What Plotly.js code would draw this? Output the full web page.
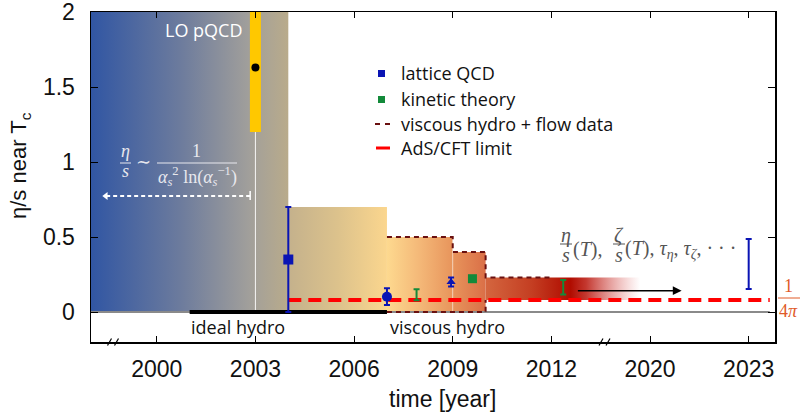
<!DOCTYPE html>
<html><head><meta charset="utf-8">
<script src="https://cdn.plot.ly/plotly-3.0.1.min.js"></script>
<style>html,body{margin:0;padding:0;background:#fff}#plot{width:801px;height:416px}</style>
</head><body><div id="plot"></div>
<script>
// ---------- data ----------
const tickPos = [2000, 2003, 2006, 2009, 2012, 2015, 2018];          // positions on the broken axis
const tickYears = ['2000', '2003', '2006', '2009', '2012', '2020', '2023'];
const yTicks = [0, 0.5, 1, 1.5, 2];
const yTickText = ['0', '0.5', '1', '1.5', '2'];

// shaded eras (on broken-axis positions)
const regionStart = [1998, 2004, 2007, 2009, 2010];
const regionEnd   = [2004, 2007, 2009, 2010, 2014.7];
const regionLow   = [0, 0, 0, 0, 0.08];
const regionHigh  = [2.0, 0.7, 0.5, 0.4, 0.23];

// viscous hydro + flow data outline
const vhX = [2007, 2009, 2009, 2010, 2010, 2012];
const vhY = [0.5, 0.5, 0.4, 0.4, 0.23, 0.23];
const vhBotX = [2007, 2010, 2010];
const vhBotY = [0, 0, 0.08];

// lattice QCD
const latX = [2004, 2007, 2008.95, 2018];
const latY = [0.35, 0.102, 0.20, 0.32];
const latErrPlus = [0.35, 0.056, 0.03, 0.167];
const latErrMinus = [0.35, 0.055, 0.03, 0.167];
const latSymbol = ['square', 'circle', 'triangle-up', 'circle'];
const latSize = [10, 10, 8, 0];

// kinetic theory
const kinX = [2007.9, 2009.6, 2012.36];
const kinY = [0.115, 0.222, 0.165];
const kinErr = [0.036, 0, 0.048];
const kinSize = [0, 9, 0];

// LO pQCD
const pqcdX = [2003, 2003];
const pqcdRange = [1.2, 2.0];
const pqcdValue = [1.63];
const pqcdArrowX = [2002.84, 1998.45];
const pqcdArrowY = [0.773, 0.773];
const pqcdCapY = [0.747, 0.807];
const pqcdStemY = [0, 1.2];

// ideal hydro, AdS/CFT, zero line, faint year line
const idealX = [2001, 2007];
const idealY = [0, 0];
const adsX = [2004, 2018.64];
const adsValue = 0.0796;   // 1/(4 pi)
const zeroX = [1998, 2018.64];
const faintX = [2009, 2009];
const faintY = [0, 0.5];

// future arrow
const futureX = [2012.76, 2015.96];
const futureY = 0.142;

// ---------- helpers ----------
const L = 91, R = 775, T = 12, B = 342;
const px = x => (x - L) / (R - L);
const py = y => (B - y) / (B - T);

const traces = [];
const gradients = [
  {cs: [[0, '#3156a3'], [0.45, '#6c7b9d'], [0.8, '#a19f9b'], [1, '#b9ab8b']], start: 1998, stop: 2004},
  {cs: [[0, '#c4b18c'], [0.5, '#dcc28c'], [1, '#fbd68e']], start: 2004, stop: 2007},
  {cs: [[0, '#fdd98f'], [0.33, '#f4b878'], [0.66, '#e8955c'], [1, '#da6f47']], start: 2007, stop: 2010},
  {cs: [[0, '#fdd98f'], [0.33, '#f4b878'], [0.66, '#e8955c'], [1, '#da6f47']], start: 2007, stop: 2010},
  {cs: [[0, '#d4663f'], [0.3, '#c43e22'], [0.55, '#b00c00'], [0.65, 'rgba(185,20,10,0.85)'], [1, 'rgba(220,90,90,0)']], start: 2010, stop: 2014.7}
];
regionStart.forEach((x0, i) => {
  const x1 = regionEnd[i], y0 = regionLow[i], y1 = regionHigh[i];
  traces.push({
    x: [x0, x1, x1, x0, x0], y: [y0, y0, y1, y1, y0],
    mode: 'lines', line: {width: 0}, fill: 'toself',
    fillgradient: {type: 'horizontal', colorscale: gradients[i].cs, start: gradients[i].start, stop: gradients[i].stop},
    hoverinfo: 'skip', showlegend: false
  });
});

// zero line
traces.push({x: zeroX, y: [0, 0], mode: 'lines', line: {color: '#8a8a8a', width: 2}, showlegend: false});
// white stem at 2003 and faint line at 2009
traces.push({x: pqcdX, y: pqcdStemY, mode: 'lines', line: {color: 'rgba(255,255,255,0.9)', width: 1}, showlegend: false});
traces.push({x: faintX, y: faintY, mode: 'lines', line: {color: 'rgba(255,255,255,0.45)', width: 1}, showlegend: false});
// viscous hydro outline
traces.push({x: vhX, y: vhY, mode: 'lines', line: {color: '#6a1010', width: 2, dash: '5px,4px'}, showlegend: false});
traces.push({x: vhBotX, y: vhBotY, mode: 'lines', line: {color: '#6a1010', width: 2, dash: '5px,4px'}, showlegend: false});
// ideal hydro
traces.push({x: idealX, y: idealY, mode: 'lines', line: {color: '#000', width: 4}, showlegend: false});
// AdS/CFT
traces.push({x: adsX, y: [adsValue, adsValue], mode: 'lines', line: {color: '#ff0000', width: 4, dash: '13px,7px'}, showlegend: false});
// LO pQCD band and point
traces.push({x: pqcdX, y: pqcdRange, mode: 'lines', line: {color: '#ffc800', width: 11}, showlegend: false});
traces.push({x: [pqcdX[0]], y: pqcdValue, mode: 'markers', marker: {color: '#000', size: 8}, showlegend: false});
// pQCD dashed arrow
traces.push({x: pqcdArrowX, y: pqcdArrowY, mode: 'lines', line: {color: '#ffffff', width: 2, dash: '4px,3px'}, showlegend: false});
traces.push({x: [pqcdArrowX[1]], y: [pqcdArrowY[1]], mode: 'markers', marker: {symbol: 'triangle-left', color: '#ffffff', size: 7}, showlegend: false});
traces.push({x: [pqcdArrowX[0], pqcdArrowX[0]], y: pqcdCapY, mode: 'lines', line: {color: '#ffffff', width: 1.5}, showlegend: false});
// lattice QCD
traces.push({
  x: latX, y: latY, mode: 'markers',
  marker: {symbol: latSymbol, size: latSize, color: '#0a14b4', opacity: 1, line: {width: 0}},
  error_y: {type: 'data', symmetric: false, array: latErrPlus, arrayminus: latErrMinus, color: '#0a14b4', thickness: 2, width: 3},
  showlegend: false
});
// kinetic theory
traces.push({
  x: kinX, y: kinY, mode: 'markers',
  marker: {symbol: 'square', size: kinSize, color: '#138a3a', opacity: 1, line: {width: 0}},
  error_y: {type: 'data', array: kinErr, color: '#138a3a', thickness: 2, width: 3},
  showlegend: false
});

// ---------- annotations ----------
const sans = 'Open Sans, Noto Sans, sans-serif';
const serif = 'Liberation Serif, DejaVu Serif, serif';
const ann = [];
const A = (text, x, y, o = {}) => ann.push(Object.assign({
  text, xref: 'paper', yref: 'paper', x: px(x), y: py(y), showarrow: false,
  xanchor: 'center', yanchor: 'middle', font: {family: sans, size: 18, color: '#111'}
}, o));

A('LO pQCD', 203, 30, {font: {family: sans, size: 18, color: '#ffffff'}});
A('ideal hydro', 238, 327);
A('viscous hydro', 447, 327);
// legend texts
A('lattice QCD', 399, 73, {xanchor: 'left'});
A('kinetic theory', 399, 99, {xanchor: 'left'});
A('viscous hydro + flow data', 399, 124, {xanchor: 'left'});
A('AdS/CFT limit', 399, 148, {xanchor: 'left'});
// axis titles
A('time [year]', 442, 399, {font: {family: 'Liberation Sans, Arial, sans-serif', size: 23, color: '#111'}});
A('η/s near T<sub>c</sub>', 20, 166, {textangle: -90, font: {family: 'Liberation Sans, Arial, sans-serif', size: 22, color: '#111'}});

// left formula
const wf = {family: serif, size: 18, color: '#e8e8ee'};
A('<i>η</i>', 125.5, 151, {font: wf});
A('<i>s</i>', 125.5, 171, {font: wf});
A('∼', 143, 162, {font: wf});
A('1', 196.5, 151, {font: wf});
A('<i>α</i><sub><i>s</i></sub><sup>2</sup> ln(<i>α</i><sub><i>s</i></sub><sup>−1</sup>)', 197, 176, {font: wf});

// right formula
const gf = {family: serif, size: 20, color: '#555555'};
A('<i>η</i>', 566, 235, {font: gf});
A('<i>s</i>', 566, 255, {font: gf});
A('(<i>T</i>),', 571, 249, {font: gf, xanchor: 'left'});
A('<i>ζ</i>', 619, 235, {font: gf});
A('<i>s</i>', 619, 255, {font: gf});
A('(<i>T</i>), <i>τ</i><sub><i>η</i></sub>, <i>τ</i><sub><i>ζ</i></sub>, · · ·', 623, 249, {font: gf, xanchor: 'left'});

// 1/4π
const of = {family: serif, size: 18, color: '#e05a28'};
A('1', 789, 286, {font: of});
A('4<i>π</i>', 789, 311, {font: of});

// future arrow (data coords)
ann.push({x: futureX[1], y: futureY, ax: futureX[0], ay: futureY, xref: 'x', yref: 'y', axref: 'x', ayref: 'y',
  showarrow: true, arrowhead: 2, arrowsize: 1.1, arrowwidth: 1.6, arrowcolor: '#000', text: ''});

// ---------- shapes ----------
const shapes = [];
const Ln = (x0, y0, x1, y1, color, w) => shapes.push({type: 'line', xref: 'paper', yref: 'paper',
  x0: px(x0), y0: py(y0), x1: px(x1), y1: py(y1), line: {color, width: w}});
// fraction bars
Ln(120, 163, 131, 163, '#e8e8ee', 1);
Ln(157, 163, 237, 163, '#e8e8ee', 1);
Ln(560, 244, 572, 244, '#555555', 1);
Ln(613, 244, 625, 244, '#555555', 1);
Ln(778, 298, 800, 298, '#e05a28', 1);
// legend symbols
shapes.push({type: 'rect', xref: 'paper', yref: 'paper', x0: px(378), x1: px(385), y0: py(77), y1: py(70), fillcolor: '#0a14b4', line: {width: 0}});
shapes.push({type: 'rect', xref: 'paper', yref: 'paper', x0: px(378), x1: px(385), y0: py(103), y1: py(96), fillcolor: '#138a3a', line: {width: 0}});
Ln(375, 124, 380, 124, '#6a1010', 2);
Ln(385, 124, 390, 124, '#6a1010', 2);
Ln(376, 148, 390, 148, '#ff0000', 3);
// axis break marks
[109.5, 116.5, 601, 608].forEach(c => Ln(c - 2, 345.5, c + 2, 338.5, '#000', 1.2));

const axisFont = {family: 'Liberation Sans, Arial, sans-serif', size: 23, color: '#111'};
const layout = {
  width: 801, height: 416,
  margin: {l: L, r: 801 - R, t: T, b: 416 - B, pad: 0},
  paper_bgcolor: '#fff', plot_bgcolor: '#fff',
  showlegend: false,
  xaxis: {range: [1998, 2018.8], tickvals: tickPos, ticktext: tickYears, ticks: 'inside', ticklen: 6,
    tickcolor: '#000', showline: true, linecolor: '#000', linewidth: 1.5, mirror: 'ticks',
    showgrid: false, zeroline: false, tickfont: axisFont, ticklabelstandoff: 6, ticklabeloverflow: 'allow'},
  yaxis: {range: [-0.2, 2.0005], tickvals: yTicks, ticktext: yTickText, ticks: 'inside', ticklen: 7,
    tickcolor: '#000', showline: true, linecolor: '#000', linewidth: 1.5, mirror: 'ticks',
    showgrid: false, zeroline: false, tickfont: axisFont, ticklabelstandoff: 10, ticklabeloverflow: 'allow'},
  annotations: ann, shapes: shapes
};
Plotly.newPlot('plot', traces, layout, {staticPlot: true, displayModeBar: false});
</script></body></html>
